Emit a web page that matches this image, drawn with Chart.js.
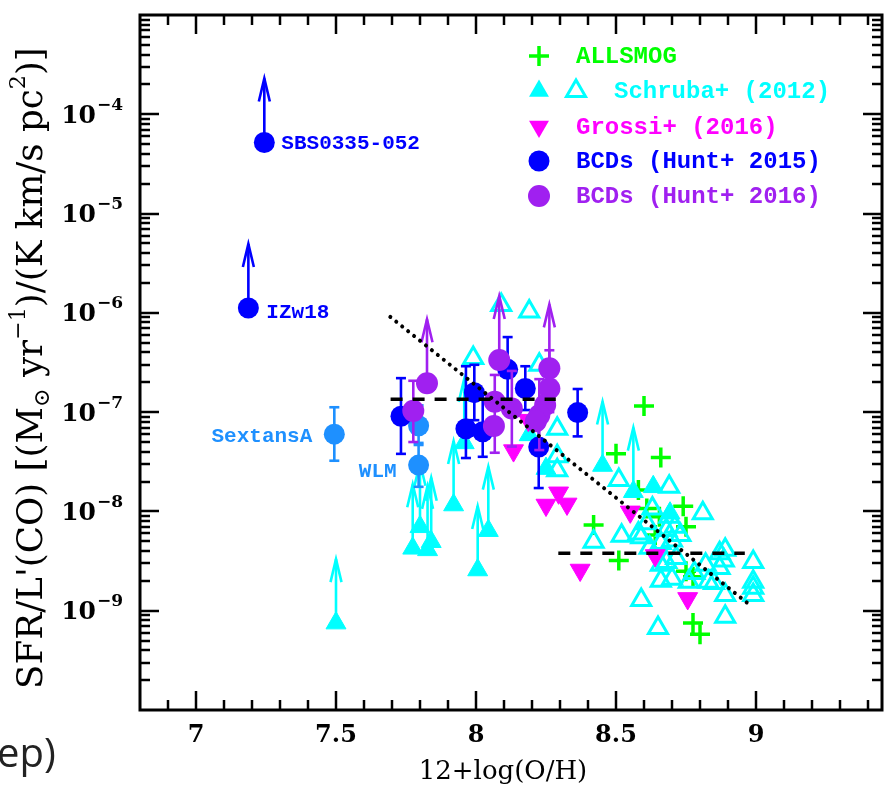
<!DOCTYPE html>
<html><head><meta charset="utf-8">
<script src="https://cdn.jsdelivr.net/npm/chart.js@4/dist/chart.umd.min.js"></script>
<style>html,body{margin:0;padding:0;background:#fff;}#wrap{position:relative;width:884px;height:791px;overflow:hidden;}</style>
</head><body><div id="wrap"><canvas id="c" width="884" height="791"></canvas></div>
<script>
// ---------------- DATA ----------------
const xTickValues = [7, 7.5, 8, 8.5, 9];
const yTickExponents = [-9, -8, -7, -6, -5, -4];

const allsmogX = [8.60, 8.50, 8.66, 8.42, 8.51, 8.61, 8.74, 8.75, 8.655, 8.64, 8.775, 8.80, 8.75, 8.775, 8.58];
const allsmogY = [1.15e-7, 3.8e-8, 3.5e-8, 7.3e-9, 3.2e-9, 1.07e-8, 1.13e-8, 7.0e-9, 8.85e-9, 5.8e-9, 7.5e-10, 5.8e-10, 2.5e-9, 2.2e-9, 1.64e-8];

const schrubaOpenX = [8.09, 8.19, 7.99, 8.226, 8.29, 8.29, 8.29, 8.51, 8.69, 8.81, 8.42, 8.52, 8.59, 8.61, 8.68, 8.66, 8.71, 8.69, 8.66, 8.70, 8.76, 8.82, 8.85, 8.87, 8.89, 8.885, 8.89, 8.89, 8.99, 8.99, 8.99, 8.99, 8.59, 8.65, 8.83, 8.78, 8.87, 8.68, 8.58, 8.73, 8.62, 8.70, 8.63, 8.715, 8.66];
const schrubaOpenY = [1.2e-6, 1.03e-6, 3.5e-7, 3.0e-7, 6.8e-8, 3.6e-8, 2.6e-8, 2.07e-8, 1.77e-8, 9.6e-9, 4.95e-9, 5.7e-9, 5.5e-9, 7.6e-9, 6.5e-9, 4.8e-9, 7.0e-9, 8.85e-9, 2.9e-9, 2.1e-9, 1.96e-9, 2.9e-9, 1.9e-9, 3.8e-9, 4.1e-9, 3.2e-9, 1.44e-9, 8.7e-10, 3.1e-9, 1.96e-9, 1.7e-9, 1.44e-9, 1.28e-9, 6.7e-10, 1.96e-9, 2.4e-9, 2.7e-9, 3.1e-9, 6.0e-9, 5.8e-9, 4.3e-9, 5.1e-9, 1.07e-8, 3.4e-9, 2.0e-9];

const schrubaFilledX = [7.50, 7.774, 7.80, 7.827, 7.84, 7.92, 8.006, 8.044, 7.958, 8.452, 8.562, 8.633, 8.693, 8.25, 8.19];
const schrubaFilledY = [7.5e-10, 4.25e-9, 7.0e-9, 4.1e-9, 4.95e-9, 1.16e-8, 2.57e-9, 6.4e-9, 4.9e-8, 2.9e-8, 1.58e-8, 1.77e-8, 9.6e-9, 2.7e-8, 5.9e-8];
const schrubaFilledLowerLimit = [1, 1, 1, 1, 1, 1, 1, 1, 1, 1, 1, 0, 0, 0, 0];

const grossiX = [8.134, 8.25, 8.295, 8.325, 8.372, 8.551, 8.64, 8.756, 8.187];
const grossiY = [4.1e-8, 1.16e-8, 1.54e-8, 1.19e-8, 2.57e-9, 9.9e-9, 3.6e-9, 1.33e-9, 8.3e-8];

const hunt15X = [7.244, 7.187, 7.732, 7.964, 7.994, 8.024, 8.113, 8.176, 8.224, 8.363];
const hunt15Y = [5.2e-5, 1.12e-6, 9.1e-8, 6.8e-8, 1.57e-7, 6.35e-8, 2.7e-7, 1.73e-7, 4.45e-8, 9.9e-8];
const hunt15Lo = [null, null, 3.8e-8, 3.45e-8, 8.3e-8, 3.55e-8, 1.32e-7, 1.05e-7, 1.72e-8, 5.7e-8];
const hunt15Hi = [null, null, 2.2e-7, 2.9e-7, 3.0e-7, 1.5e-7, 5.7e-7, 2.9e-7, 7.4e-8, 1.71e-7];
const hunt15LowerLimit = [1, 1, 0, 0, 0, 0, 0, 0, 0, 0];

const dwarfX = [7.494, 7.795, 7.795];
const dwarfY = [6.0e-8, 7.3e-8, 2.93e-8];
const dwarfLo = [3.24e-8, 4.9e-8, 1.77e-8];
const dwarfHi = [1.12e-7, 1.17e-7, 4.67e-8];

const hunt16X = [7.825, 7.776, 8.083, 8.067, 8.064, 8.128, 8.262, 8.262, 8.247, 8.226, 8.214];
const hunt16Y = [1.95e-7, 1.03e-7, 3.35e-7, 1.27e-7, 7.25e-8, 1.09e-7, 2.76e-7, 1.73e-7, 1.18e-7, 9.3e-8, 8.1e-8];
const hunt16Lo = [null, 5.0e-8, null, 3.9e-8, null, 4.5e-8, null, 1.0e-7, null, 4.15e-8, null];
const hunt16Hi = [null, 2.07e-7, null, 2.37e-7, null, 2.6e-7, null, 4.2e-7, null, 2.15e-7, null];
const hunt16LowerLimit = [1, 0, 1, 0, 0, 0, 1, 0, 0, 0, 0];

const fitX = [7.694, 8.987];
const fitY = [9.1e-7, 1.09e-9];
const meanLowZX = [7.695, 8.285];
const meanLowZY = [1.35e-7, 1.35e-7];
const meanHighZX = [8.294, 8.96];
const meanHighZY = [3.79e-9, 3.79e-9];

const labelNames = ['SBS0335-052', 'IZw18', 'SextansA', 'WLM'];
const legendNames = ['ALLSMOG', 'Schruba+ (2012)', 'Grossi+ (2016)', 'BCDs (Hunt+ 2015)', 'BCDs (Hunt+ 2016)'];

// ---------------- STYLE ----------------
const C_GREEN = '#00ff00', C_CYAN = '#00ffff', C_MAG = '#ff00ff', C_BLUE = '#0000ff', C_LBLUE = '#1e90ff', C_PURP = '#a020f0';
const ARROW_DEX = 0.645;
const MONO = '"Liberation Mono", monospace';
const SERIF = '"DejaVu Serif", serif';

const zip = (xs, ys) => xs.map((x, i) => ({x: x, y: ys[i]}));

const datasets = [
  {label: 'fit', data: zip(fitX, fitY), showLine: true, pointRadius: 0, borderColor: '#000', borderWidth: 4, borderDash: [0.01, 7.6], borderCapStyle: 'round', order: 0},
  {label: 'meanLow', data: zip(meanLowZX, meanLowZY), showLine: true, pointRadius: 0, borderColor: '#000', borderWidth: 3.5, borderDash: [12, 10], order: 1},
  {label: 'meanHigh', data: zip(meanHighZX, meanHighZY), showLine: true, pointRadius: 0, borderColor: '#000', borderWidth: 3.5, borderDash: [12, 10], order: 1},
  {label: 'BCDs (Hunt+ 2016)', data: zip(hunt16X, hunt16Y), pointStyle: 'circle', pointRadius: 11, backgroundColor: C_PURP, borderColor: C_PURP, borderWidth: 0, order: 2,
    extra: {lo: hunt16Lo, hi: hunt16Hi, arrow: hunt16LowerLimit}},
  {label: 'BCDs (Hunt+ 2015)', data: zip(hunt15X, hunt15Y), pointStyle: 'circle', pointRadius: 10.5, backgroundColor: C_BLUE, borderColor: C_BLUE, borderWidth: 0, order: 3,
    extra: {lo: hunt15Lo, hi: hunt15Hi, arrow: hunt15LowerLimit}},
  {label: 'dwarfs', data: zip(dwarfX, dwarfY), pointStyle: 'circle', pointRadius: 10.5, backgroundColor: C_LBLUE, borderColor: C_LBLUE, borderWidth: 0, order: 4,
    extra: {lo: dwarfLo, hi: dwarfHi}},
  {label: 'Grossi+ (2016)', data: zip(grossiX, grossiY), pointStyle: 'triangle', rotation: 180, pointRadius: 11.5, backgroundColor: C_MAG, borderColor: C_MAG, borderWidth: 1, order: 5},
  {label: 'Schruba filled', data: zip(schrubaFilledX, schrubaFilledY), pointStyle: 'triangle', pointRadius: 11.5, backgroundColor: C_CYAN, borderColor: C_CYAN, borderWidth: 1, order: 6,
    extra: {arrow: schrubaFilledLowerLimit}},
  {label: 'Schruba open', data: zip(schrubaOpenX, schrubaOpenY), pointStyle: 'triangle', pointRadius: 11, backgroundColor: 'rgba(0,0,0,0)', borderColor: C_CYAN, borderWidth: 3, order: 7},
  {label: 'ALLSMOG', data: zip(allsmogX, allsmogY), pointStyle: 'cross', pointRadius: 10, borderColor: C_GREEN, borderWidth: 3.5, order: 8}
];

function line(ctx, x1, y1, x2, y2) { ctx.beginPath(); ctx.moveTo(x1, y1); ctx.lineTo(x2, y2); ctx.stroke(); }

const errPlugin = {
  id: 'errArrows',
  beforeDatasetDraw(chart, args) {
    const ds = chart.data.datasets[args.index];
    const ex = ds.extra; if (!ex) return;
    const ctx = chart.ctx, xs = chart.scales.x, ys = chart.scales.y;
    ctx.save();
    ctx.strokeStyle = ds.borderColor; ctx.lineWidth = 2.6; ctx.lineCap = 'butt';
    ds.data.forEach((p, i) => {
      const px = xs.getPixelForValue(p.x), py = ys.getPixelForValue(p.y);
      if (ex.lo && ex.lo[i] != null) {
        const pl = ys.getPixelForValue(ex.lo[i]), ph = ys.getPixelForValue(ex.hi[i]);
        line(ctx, px, pl, px, ph);
        line(ctx, px - 5, pl, px + 5, pl);
        line(ctx, px - 5, ph, px + 5, ph);
      }
      if (ex.arrow && ex.arrow[i]) {
        const pt = ys.getPixelForValue(p.y * Math.pow(10, ARROW_DEX));
        line(ctx, px, py, px, pt);
        ctx.beginPath(); ctx.moveTo(px - 5.5, pt + 23); ctx.lineTo(px, pt); ctx.lineTo(px + 5.5, pt + 23); ctx.stroke();
      }
    });
    ctx.restore();
  }
};

function tri(ctx, x, y, r, down, fill, color, lw) {
  const s = down ? -1 : 1;
  ctx.beginPath();
  ctx.moveTo(x, y - s * r);
  ctx.lineTo(x + r * 0.866, y + s * r * 0.5);
  ctx.lineTo(x - r * 0.866, y + s * r * 0.5);
  ctx.closePath();
  if (fill) { ctx.fillStyle = color; ctx.fill(); }
  else { ctx.strokeStyle = color; ctx.lineWidth = lw; ctx.stroke(); }
}

const decorPlugin = {
  id: 'decor',
  afterDraw(chart) {
    const ctx = chart.ctx, a = chart.chartArea, xs = chart.scales.x, ys = chart.scales.y;
    ctx.save();
    // annotation labels
    ctx.font = 'bold 21px ' + MONO; ctx.textBaseline = 'middle';
    const sbs = {x: xs.getPixelForValue(hunt15X[0]), y: ys.getPixelForValue(hunt15Y[0])};
    const izw = {x: xs.getPixelForValue(hunt15X[1]), y: ys.getPixelForValue(hunt15Y[1])};
    const sex = {x: xs.getPixelForValue(dwarfX[0]), y: ys.getPixelForValue(dwarfY[0])};
    const wlm = {x: xs.getPixelForValue(dwarfX[2]), y: ys.getPixelForValue(dwarfY[2])};
    ctx.fillStyle = C_BLUE; ctx.textAlign = 'left';
    ctx.fillText(labelNames[0], sbs.x + 17, sbs.y + 1);
    ctx.fillText(labelNames[1], izw.x + 18, izw.y + 5);
    ctx.fillStyle = C_LBLUE; ctx.textAlign = 'right';
    ctx.fillText(labelNames[2], sex.x - 22, sex.y + 3);
    ctx.fillText(labelNames[3], wlm.x - 22, wlm.y + 7);

    // legend
    const lx = 539, ltx = 576, rows = [56, 91, 126.5, 161, 196];
    ctx.textAlign = 'left'; ctx.font = 'bold 24px ' + MONO;
    ctx.strokeStyle = C_GREEN; ctx.lineWidth = 3.5;
    line(ctx, lx - 10, rows[0], lx + 10, rows[0]); line(ctx, lx, rows[0] - 10, lx, rows[0] + 10);
    ctx.fillStyle = C_GREEN; ctx.fillText(legendNames[0], ltx, rows[0] + 1);
    tri(ctx, lx, rows[1], 11.5, false, true, C_CYAN);
    tri(ctx, 576, rows[1], 11, false, false, C_CYAN, 3);
    ctx.fillStyle = C_CYAN; ctx.fillText(legendNames[1], 614, rows[1] + 1);
    tri(ctx, lx, rows[2], 11.5, true, true, C_MAG);
    ctx.fillStyle = C_MAG; ctx.fillText(legendNames[2], ltx, rows[2] + 1);
    ctx.fillStyle = C_BLUE; ctx.beginPath(); ctx.arc(lx, rows[3], 10.5, 0, Math.PI * 2); ctx.fill();
    ctx.fillText(legendNames[3], ltx, rows[3] + 1);
    ctx.fillStyle = C_PURP; ctx.beginPath(); ctx.arc(lx, rows[4], 11, 0, Math.PI * 2); ctx.fill();
    ctx.fillText(legendNames[4], ltx, rows[4] + 1);

    // frame
    ctx.strokeStyle = '#000'; ctx.lineWidth = 3;
    ctx.strokeRect(a.left, a.top, a.right - a.left, a.bottom - a.top);
    ctx.lineWidth = 2.5;
    for (let k = 68; k <= 94; k++) {
      const v = k / 10; const px = Math.round(xs.getPixelForValue(v));
      if (px <= a.left + 1 || px >= a.right - 1) continue;
      const len = (k % 5 === 0) ? 19 : 10;
      line(ctx, px, a.bottom, px, a.bottom - len);
      line(ctx, px, a.top, px, a.top + len);
    }
    for (let e = -10; e <= -3; e++) {
      for (let m = 1; m < 10; m++) {
        const v = m * Math.pow(10, e); if (v > 1.0001e-3) break;
        const py = Math.round(ys.getPixelForValue(v));
        if (py <= a.top + 1 || py >= a.bottom - 1) continue;
        const len = m === 1 ? 19 : 10;
        line(ctx, a.left, py, a.left + len, py);
        line(ctx, a.right, py, a.right - len, py);
      }
    }
    // x tick labels
    ctx.fillStyle = '#000'; ctx.textAlign = 'center'; ctx.textBaseline = 'middle';
    ctx.font = 'bold 24px ' + SERIF;
    xTickValues.forEach(v => ctx.fillText(String(v), xs.getPixelForValue(v), 736));
    // y tick labels
    yTickExponents.forEach(e => {
      const py = ys.getPixelForValue(Math.pow(10, e));
      const expTxt = '\u2212' + Math.abs(e);
      ctx.font = 'bold 17px ' + SERIF; ctx.textAlign = 'right';
      const ew = ctx.measureText(expTxt).width;
      ctx.fillText(expTxt, 123, py - 9);
      ctx.font = 'bold 25px ' + SERIF;
      ctx.fillText('10', 123 - ew - 1, py + 2);
    });
    // x title
    ctx.font = '26px ' + SERIF; ctx.textAlign = 'center';
    ctx.fillText('12+log(O/H)', 503, 772);
    // y title
    const parts = [
      {t: "SFR/L'(CO) [(M", s: 1, dy: 0}, {t: '\u2299', s: 0.62, dy: 0.28}, {t: ' yr', s: 1, dy: 0},
      {t: '\u22121', s: 0.62, dy: -0.38}, {t: ')/(K km/s pc', s: 1, dy: 0}, {t: '2', s: 0.62, dy: -0.38}, {t: ')]', s: 1, dy: 0}
    ];
    const base = 26;
    let tot = 0; parts.forEach(p => { ctx.font = (base * p.s) + 'px ' + SERIF; tot += ctx.measureText(p.t).width; });
    const fs = base * 642 / tot;
    ctx.translate(33, 368); ctx.rotate(-Math.PI / 2);
    ctx.textAlign = 'left'; ctx.textBaseline = 'middle';
    let cx = -321;
    parts.forEach(p => { ctx.font = (fs * p.s) + 'px ' + SERIF; ctx.fillText(p.t, cx, p.dy * fs); cx += ctx.measureText(p.t).width; });
    ctx.setTransform(1, 0, 0, 1, 0, 0);
    // cropped fragment at lower-left
    ctx.fillStyle = '#222'; ctx.textAlign = 'left'; ctx.textBaseline = 'alphabetic';
    ctx.font = '40px "Open Sans", sans-serif';
    ctx.fillText('ep)', -3, 767);
    ctx.restore();
  }
};

new Chart(document.getElementById('c'), {
  type: 'scatter',
  data: {datasets: datasets},
  options: {
    responsive: false, animation: false, devicePixelRatio: 1,
    layout: {autoPadding: false, padding: {left: 140, right: 2, top: 15, bottom: 81}},
    scales: {
      x: {type: 'linear', min: 6.8, max: 9.45, display: false},
      y: {type: 'logarithmic', min: 1e-10, max: 1e-3, display: false}
    },
    plugins: {legend: {display: false}, tooltip: {enabled: false}}
  },
  plugins: [errPlugin, decorPlugin]
});
</script></body></html>
